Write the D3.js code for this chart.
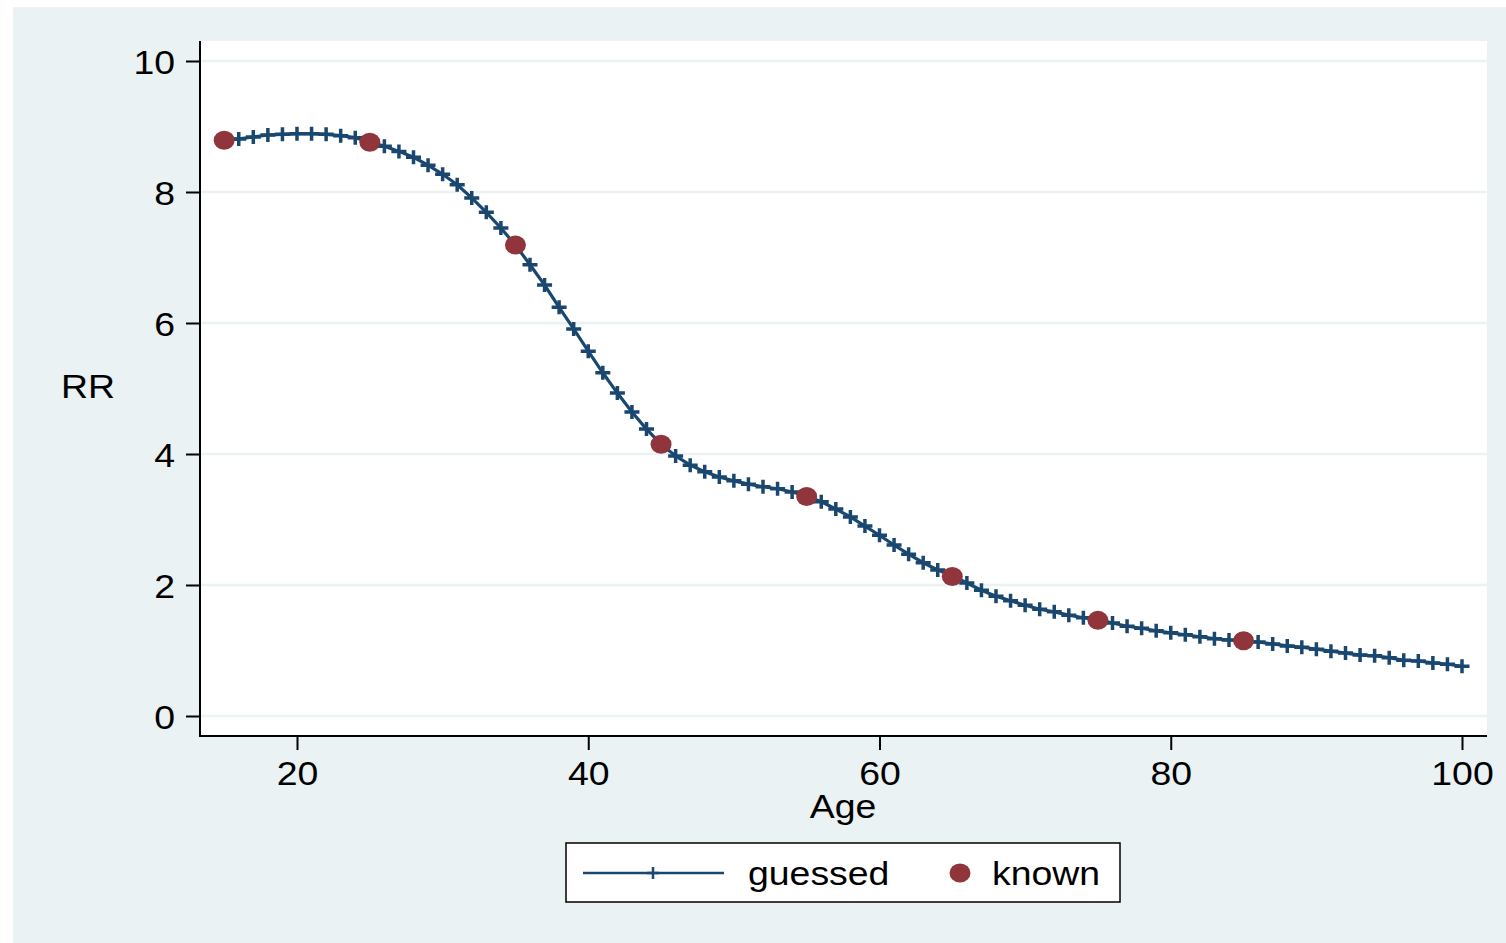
<!DOCTYPE html>
<html>
<head>
<meta charset="utf-8">
<script src="https://cdn.jsdelivr.net/npm/d3@7"></script>
<style>
  body { margin: 0; background: #fff; }
  text { font-family: "Liberation Sans", Arial, sans-serif; fill: #000; }
</style>
</head>
<body>
<script>
// guessed RR at every age 15..100
var ages = d3.range(15, 101);
var guessed = [8.79, 8.81, 8.84, 8.87, 8.88, 8.89, 8.89, 8.88, 8.86, 8.83,
               8.76, 8.70, 8.62, 8.53, 8.41, 8.27, 8.11, 7.91, 7.69, 7.45,
               7.19, 6.89, 6.58, 6.24, 5.91, 5.57, 5.24, 4.93, 4.64, 4.38,
               4.15, 3.97, 3.83, 3.73, 3.65, 3.59, 3.54, 3.50, 3.47, 3.42,
               3.36, 3.27, 3.16, 3.04, 2.90, 2.76, 2.61, 2.47, 2.34, 2.23,
               2.14, 2.03, 1.92, 1.83, 1.76, 1.69, 1.63, 1.59, 1.54, 1.50,
               1.47, 1.42, 1.37, 1.34, 1.30, 1.27, 1.24, 1.21, 1.18, 1.16,
               1.15, 1.13, 1.10, 1.07, 1.05, 1.02, 0.99, 0.96, 0.93, 0.92,
               0.89, 0.85, 0.84, 0.81, 0.79, 0.76];

// known points
var knownAges = [15, 25, 35, 45, 55, 65, 75, 85];
var known = [8.79, 8.76, 7.19, 4.15, 3.35, 2.13, 1.46, 1.15];

var xTicks = [20, 40, 60, 80, 100];
var yTicks = [0, 2, 4, 6, 8, 10];

var navy = "#1a476f", maroon = "#90353b", bg = "#eaf2f3";
var sx = 1.1; // image is a bit wider than tall

var W = 1506, H = 943;
var svg = d3.select("body").append("svg")
            .attr("width", W)
            .attr("height", H);

// outer graph region
svg.append("rect")
   .attr("x", 13).attr("y", 7)
   .attr("width", W - 13).attr("height", H - 7)
   .attr("fill", bg);

var pLeft = 200, pRight = 1487, pTop = 41, pBottom = 736;

svg.append("rect")
   .attr("x", pLeft).attr("y", pTop)
   .attr("width", pRight - pLeft).attr("height", pBottom - pTop)
   .attr("fill", "#fff");

var x = d3.scaleLinear().domain([20, 100]).range([297, 1462]);
var y = d3.scaleLinear().domain([0, 10]).range([716, 61]);

// grid
svg.append("g").selectAll("line")
   .data(yTicks)
   .enter().append("line")
   .attr("x1", pLeft).attr("x2", pRight)
   .attr("y1", d => y(d)).attr("y2", d => y(d))
   .attr("stroke", bg)
   .attr("stroke-width", 2.5);

// y axis
var yAxis = svg.append("g")
   .attr("transform", "translate(" + pLeft + ",0)")
   .call(d3.axisLeft(y).tickValues(yTicks).tickSize(14).tickFormat(d3.format("d")));
yAxis.select(".domain").remove();
yAxis.selectAll("line").attr("stroke", "#000").attr("stroke-width", 2);
yAxis.selectAll("text")
     .attr("x", null).attr("dy", null)
     .attr("transform", "translate(-25,12) scale(" + sx + ",1)")
     .style("font-size", "34px")
     .style("font-family", "'Liberation Sans', Arial, sans-serif");

// x axis
var xAxis = svg.append("g")
   .attr("transform", "translate(0," + pBottom + ")")
   .call(d3.axisBottom(x).tickValues(xTicks).tickSize(14).tickFormat(d3.format("d")));
xAxis.select(".domain").remove();
xAxis.selectAll("line").attr("stroke", "#000").attr("stroke-width", 2);
xAxis.selectAll("text")
     .attr("y", null).attr("dy", null)
     .attr("transform", "translate(0,49) scale(" + sx + ",1)")
     .style("font-size", "34px")
     .style("font-family", "'Liberation Sans', Arial, sans-serif");

// axis lines
svg.append("line")
   .attr("x1", pLeft).attr("x2", pLeft)
   .attr("y1", pTop).attr("y2", pBottom + 1)
   .attr("stroke", "#000").attr("stroke-width", 2);
svg.append("line")
   .attr("x1", pLeft - 1).attr("x2", pRight)
   .attr("y1", pBottom).attr("y2", pBottom)
   .attr("stroke", "#000").attr("stroke-width", 2);

// axis titles
svg.append("text")
   .attr("text-anchor", "middle")
   .attr("transform", "translate(843,818) scale(" + sx + ",1)")
   .style("font-size", "34px")
   .text("Age");
svg.append("text")
   .attr("text-anchor", "middle")
   .attr("transform", "translate(88,398) scale(" + sx + ",1)")
   .style("font-size", "34px")
   .text("RR");

// guessed line
var pts = ages.map((a, i) => [a, guessed[i]]);
var line = d3.line().x(d => x(d[0])).y(d => y(d[1]));

svg.append("path")
   .datum(pts)
   .attr("d", line)
   .attr("fill", "none")
   .attr("stroke", navy)
   .attr("stroke-width", 3.2);

var plus = "M-7.5,0H7.5M0,-7V7";
svg.append("g").selectAll("path")
   .data(pts)
   .enter().append("path")
   .attr("transform", d => "translate(" + x(d[0]) + "," + y(d[1]) + ")")
   .attr("d", plus)
   .attr("stroke", navy)
   .attr("stroke-width", 3.5);

// known points
svg.append("g").selectAll("ellipse")
   .data(knownAges.map((a, i) => [a, known[i]]))
   .enter().append("ellipse")
   .attr("cx", d => x(d[0]))
   .attr("cy", d => y(d[1]))
   .attr("rx", 10.5)
   .attr("ry", 9.5)
   .attr("fill", maroon);

// legend
var lg = svg.append("g");
lg.append("rect")
  .attr("x", 566).attr("y", 843)
  .attr("width", 554).attr("height", 59)
  .attr("fill", "#fff")
  .attr("stroke", "#000")
  .attr("stroke-width", 1.5);
lg.append("line")
  .attr("x1", 583).attr("x2", 724)
  .attr("y1", 873).attr("y2", 873)
  .attr("stroke", navy).attr("stroke-width", 2.5);
lg.append("path")
  .attr("transform", "translate(653,873)")
  .attr("d", "M-6,0H6M0,-6V6")
  .attr("stroke", navy).attr("stroke-width", 2.5);
lg.append("text")
  .attr("transform", "translate(748,885) scale(" + sx + ",1)")
  .style("font-size", "34px")
  .text("guessed");
lg.append("ellipse")
  .attr("cx", 960).attr("cy", 873)
  .attr("rx", 10.5).attr("ry", 9.5)
  .attr("fill", maroon);
lg.append("text")
  .attr("transform", "translate(992,885) scale(" + sx + ",1)")
  .style("font-size", "34px")
  .text("known");
</script>
</body>
</html>
